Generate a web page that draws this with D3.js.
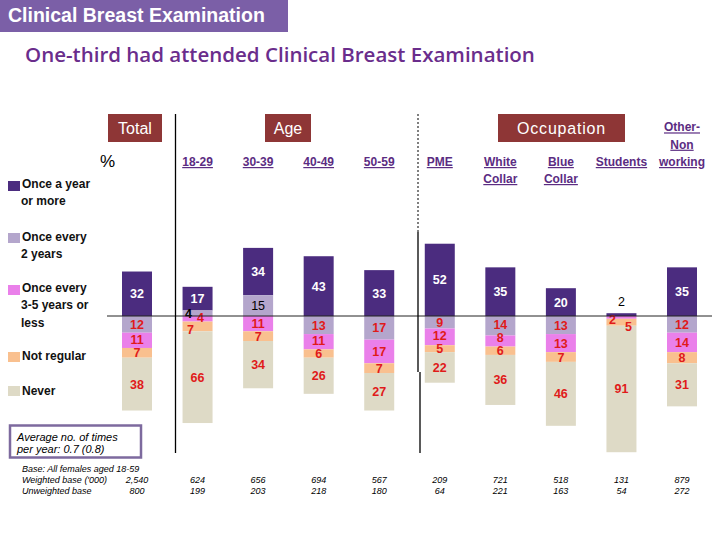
<!DOCTYPE html>
<html><head><meta charset="utf-8">
<script src="https://cdn.jsdelivr.net/npm/d3@7"></script>
<style>body{margin:0;background:#fff}svg{display:block}</style>
</head><body>
<script>
// ---- data ----
const categories = ["Total","18-29","30-39","40-49","50-59","PME","White Collar","Blue Collar","Students","Other-Non working"];
const headerLines = [[],["18-29"],["30-39"],["40-49"],["50-59"],["PME"],["White","Collar"],["Blue","Collar"],["Students"],["Other-","Non","working"]];
const seriesNames = ["Once a year or more","Once every 2 years","Once every 3-5 years or less","Not regular","Never"];
const onceYear   = [32,17,34,43,33,52,35,20, 2,35];
const every2     = [12, 4,15,13,17, 9,14,13, 0,12];
const every35    = [11, 4,11,11,17,12, 8,13, 2,14];
const notRegular = [ 7, 7, 7, 6, 7, 5, 6, 7, 5, 8];
const never      = [38,66,34,26,27,22,36,46,91,31];
// number of segments drawn above the reference line in each column
const aboveCount = [1,2,2,1,1,1,1,1,1,1];
const weightedBase   = ["2,540","624","656","694","567","209","721","518","131","879"];
const unweightedBase = ["800","199","203","218","180","64","221","163","54","272"];

const series = [onceYear, every2, every35, notRegular, never];
const colors = ["#4b2c7f","#b4a6cc","#ea80ea","#f9c08f","#dedac6"];

const W = 720, H = 540;
const svg = d3.select("body").append("svg").attr("width", W).attr("height", H)
  .style("font-family", "Arial, 'Liberation Sans', sans-serif");

// title bar
svg.append("rect").attr("x",0).attr("y",0).attr("width",288).attr("height",32).attr("fill","#7b5fa7");
svg.append("text").attr("x",8).attr("y",22).attr("fill","#fff").attr("font-size",19.5).attr("font-weight","bold")
  .text("Clinical Breast Examination");
svg.append("text").attr("x",25).attr("y",62).attr("fill","#6a2d8c").attr("font-size",20.5).attr("font-weight",600)
  .style("font-family","'Open Sans', 'Noto Sans', sans-serif")
  .text("One-third had attended Clinical Breast Examination");

// header boxes
const boxes = [{t:"Total",x:108,w:54},{t:"Age",x:265,w:46},{t:"Occupation",x:498,w:127}];
boxes.forEach(b=>{
  svg.append("rect").attr("x",b.x).attr("y",114).attr("width",b.w).attr("height",28).attr("fill","#8e3636");
  svg.append("text").attr("x",b.x+b.w/2).attr("y",134).attr("text-anchor","middle").attr("fill","#fff")
    .attr("font-size",16).attr("letter-spacing", b.t==="Occupation"?0.8:0).text(b.t);
});
svg.append("text").attr("x",100).attr("y",167).attr("font-size",17).attr("fill","#000").text("%");

// scales
const x = d3.scalePoint().domain(categories).range([137, 682]);
const barW = 30;
const h = d3.scaleLinear().domain([0,100]).range([0,139]);
const baseY = 316;

// column headers
categories.forEach((c,i)=>{
  const lines = headerLines[i];
  const n = lines.length;
  lines.forEach((l,j)=>{
    svg.append("text").attr("x",x(c)).attr("y",166 - (n===3 ? (2-j)*17.3 : -j*17))
      .attr("text-anchor","middle").attr("font-size",12).attr("font-weight","bold")
      .attr("fill","#5b2c82").style("text-decoration","underline").text(l);
  });
});

// bars
const labelTweak = {"1-1":{dx:-9,dy:0,c:"#000",w:"bold"},"1-2":{dx:3,dy:-1},"1-3":{dx:-7,dy:3},
                    "8-2":{dx:-9,dy:2},"8-3":{dx:7,dy:4}};
const manualCols = new Set([1,8]);
categories.forEach((c,i)=>{
  const segs = series.map((s,k)=>({k, v:s[i]}));
  const k0 = aboveCount[i];
  let yCur = baseY;
  for (let k=k0-1;k>=0;k--){ const s=segs[k]; s.y1=yCur; s.y0=yCur-h(s.v); yCur=s.y0; s.above=true; }
  yCur = baseY;
  for (let k=k0;k<segs.length;k++){ const s=segs[k]; s.y0=yCur; s.y1=yCur+h(s.v); yCur=s.y1; s.above=false; }
  segs.forEach(s=>{ s.cy = (s.y0+s.y1)/2; });
  // keep labels of thin neighbouring segments apart (push the upper one up)
  if (!manualCols.has(i)) {
    for (let k=segs.length-2;k>=k0;k--){
      if (segs[k].cy > segs[k+1].cy - 13) segs[k].cy = segs[k+1].cy - 13;
    }
  }
  const g = svg.append("g");
  g.selectAll("rect").data(segs).join("rect")
    .attr("x", x(c)-barW/2).attr("width", barW)
    .attr("y", d=>d.y0).attr("height", d=>d.y1-d.y0).attr("fill", d=>colors[d.k]);
  segs.forEach(s=>{
    if (s.v===0) return;
    const key = i+"-"+s.k;
    const tw = labelTweak[key]||{};
    let lx = x(c) + (tw.dx||0), ly = s.cy + 4.5 + (tw.dy||0);
    let fill = s.k===0 ? "#fff" : (s.above ? "#000" : "#e01a1a");
    let weight = (s.k===0 || !s.above) ? "bold" : "normal";
    if (s.y1 - s.y0 < 6 && s.k===0){ ly = s.y0 - 7; fill="#000"; weight="normal"; }
    if (tw.c) { fill = tw.c; }
    if (tw.w) { weight = tw.w; }
    g.append("text").attr("x",lx).attr("y",ly).attr("text-anchor","middle")
      .attr("font-size",12.5).attr("font-weight",weight).attr("fill",fill).text(s.v);
  });
});

// reference lines
svg.append("line").attr("x1",107).attr("x2",712).attr("y1",baseY).attr("y2",baseY).attr("stroke","#222").attr("stroke-width",1);
svg.append("line").attr("x1",175.5).attr("x2",175.5).attr("y1",114).attr("y2",453).attr("stroke","#000").attr("stroke-width",1.3);
svg.append("line").attr("x1",418).attr("x2",418).attr("y1",114).attr("y2",232).attr("stroke","#000").attr("stroke-width",1).attr("stroke-dasharray","2,2");
svg.append("line").attr("x1",418).attr("x2",418).attr("y1",232).attr("y2",372).attr("stroke","#000").attr("stroke-width",1.3);
svg.append("line").attr("x1",420).attr("x2",420).attr("y1",372).attr("y2",453).attr("stroke","#000").attr("stroke-width",1.3);

// legend
const legendItems = [
  {lines:["Once a year","or more"], sq:181, base:188},
  {lines:["Once every","2 years"], sq:233, base:241},
  {lines:["Once every","3-5 years or","less"], sq:285, base:292},
  {lines:["Not regular"], sq:352, base:360},
  {lines:["Never"], sq:386, base:395}
];
legendItems.forEach((d,i)=>{
  svg.append("rect").attr("x",8).attr("y",d.sq).attr("width",12).attr("height",10).attr("fill",colors[i]);
  d.lines.forEach((l,j)=>{
    svg.append("text").attr("x", j===0?22:21).attr("y", d.base + j*17.3).attr("font-size",12).attr("font-weight","bold")
      .attr("fill","#111").text(l);
  });
});

// average box
svg.append("rect").attr("x",10).attr("y",425.5).attr("width",131).attr("height",32).attr("fill","#fff")
  .attr("stroke","#7d6a9e").attr("stroke-width",2.5);
svg.append("text").attr("x",17).attr("y",441).attr("font-size",11).attr("font-style","italic").text("Average no. of times");
svg.append("text").attr("x",17).attr("y",453).attr("font-size",11).attr("font-style","italic").text("per year: 0.7 (0.8)");

// base rows
const baseFont = 9;
svg.append("text").attr("x",22).attr("y",472).attr("font-size",baseFont).attr("font-style","italic").text("Base: All females aged 18-59");
svg.append("text").attr("x",22).attr("y",483).attr("font-size",baseFont).attr("font-style","italic").text("Weighted base ('000)");
svg.append("text").attr("x",22).attr("y",494).attr("font-size",baseFont).attr("font-style","italic").text("Unweighted base");
categories.forEach((c,i)=>{
  svg.append("text").attr("x",x(c)).attr("y",483).attr("text-anchor","middle").attr("font-size",baseFont).attr("font-style","italic").text(weightedBase[i]);
  svg.append("text").attr("x",x(c)).attr("y",494).attr("text-anchor","middle").attr("font-size",baseFont).attr("font-style","italic").text(unweightedBase[i]);
});
</script>
</body></html>
